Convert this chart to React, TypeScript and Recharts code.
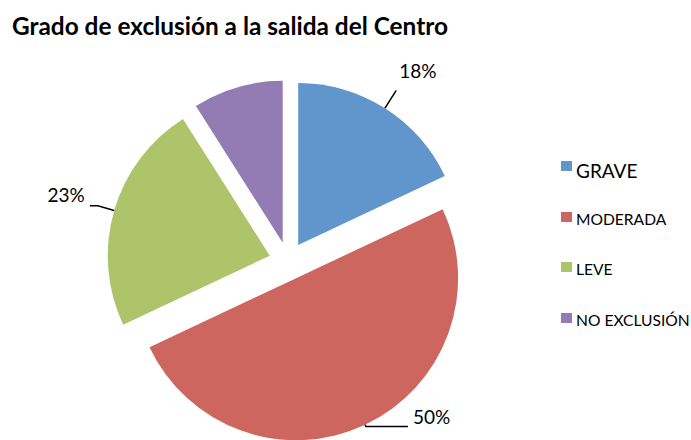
import React from "react";
import { Cell, Pie, PieChart } from "recharts";

const categories = ["GRAVE", "MODERADA", "LEVE", "NO EXCLUSIÓN"];
const values = [18, 50, 23, 9];
const colors = ["#6096CB", "#CE6660", "#ADC46A", "#937BB3"];
// purple slice has no data label in the original
const showLabel = [true, true, true, false];

const W = 691;
const H = 440;
const CX = 288;
const CY = 261;
const R = 162;
const EXPLODE = 19;
const RAD = Math.PI / 180;
const FONT = "Lato, 'Open Sans', sans-serif";

const data = categories.map((name, i) => ({ name, value: values[i] }));
const total = values.reduce((a, b) => a + b, 0);

// mid angle of each slice in recharts degrees (clockwise from 12 o'clock)
const midAngles = values.map((v, i) => {
  const before = values.slice(0, i).reduce((a, b) => a + b, 0);
  return 90 - (360 * (before + v / 2)) / total;
});

// leader line shape per slice: radial extension, horizontal elbow, text offset
const leader = [
  { ext: 21, elbow: 0, tx: 3, ty: -12, anchor: "start" },
  { ext: 2, elbow: 42, tx: 5, ty: -3, anchor: "start" },
  { ext: 17, elbow: -8, tx: -5, ty: -4, anchor: "end" },
  { ext: 0, elbow: 0, tx: 0, ty: 0, anchor: "start" },
];

const makeLabel = (slice: number) => (props: any) => {
  if (props.index !== slice || !showLabel[slice]) return null;
  const { cx, cy, midAngle, outerRadius, percent } = props;
  const cfg = leader[slice];
  const cos = Math.cos(-midAngle * RAD);
  const sin = Math.sin(-midAngle * RAD);
  const ax = cx + outerRadius * cos;
  const ay = cy + outerRadius * sin;
  const bx = cx + (outerRadius + cfg.ext) * cos;
  const by = cy + (outerRadius + cfg.ext) * sin;
  const ex = bx + cfg.elbow;
  return (
    <g>
      <polyline
        points={`${ax},${ay} ${bx},${by} ${ex},${by}`}
        fill="none"
        stroke="#000"
        strokeWidth={1.5}
      />
      <text
        x={ex + cfg.tx}
        y={by + cfg.ty}
        textAnchor={cfg.anchor as any}
        fontFamily={FONT}
        fontSize={19}
        fill="#000"
      >
        {`${Math.round(percent * 100)}%`}
      </text>
    </g>
  );
};

export default function App() {
  return (
    <div style={{ position: "absolute", left: 0, top: 0, width: W, height: H, background: "#fff", overflow: "hidden" }}>
      <div
        style={{
          position: "absolute",
          left: 12,
          top: 11,
          fontFamily: FONT,
          fontWeight: 700,
          fontSize: 24.4,
          lineHeight: "29px",
          color: "#000",
          whiteSpace: "nowrap",
        }}
      >
        Grado de exclusión a la salida del Centro
      </div>
      <PieChart width={W} height={H} margin={{ top: 0, right: 0, bottom: 0, left: 0 }}>
        {categories.map((_, s) => (
          <Pie
            key={s}
            data={data}
            dataKey="value"
            nameKey="name"
            cx={CX + EXPLODE * Math.cos(-midAngles[s] * RAD)}
            cy={CY + EXPLODE * Math.sin(-midAngles[s] * RAD)}
            outerRadius={R}
            startAngle={90}
            endAngle={-270}
            stroke="none"
            label={makeLabel(s)}
            labelLine={false}
            isAnimationActive={false}
          >
            {data.map((_, i) => (
              <Cell key={i} fill={i === s ? colors[i] : "none"} />
            ))}
          </Pie>
        ))}
      </PieChart>
      {categories.map((name, i) => (
        <div
          key={name}
          style={{
            position: "absolute",
            left: 561,
            top: [161, 212, 262, 313][i],
            display: "flex",
            alignItems: "flex-start",
            fontFamily: FONT,
            fontSize: i === 0 ? 19 : 15.6,
            color: "#000",
            whiteSpace: "nowrap",
          }}
        >
          <span style={{ width: 11, height: 10, background: colors[i], display: "inline-block", marginRight: 4 }} />
          <span style={{ lineHeight: i === 0 ? "18px" : "15px", marginTop: i === 0 ? 1 : 0 }}>{name}</span>
        </div>
      ))}
    </div>
  );
}
